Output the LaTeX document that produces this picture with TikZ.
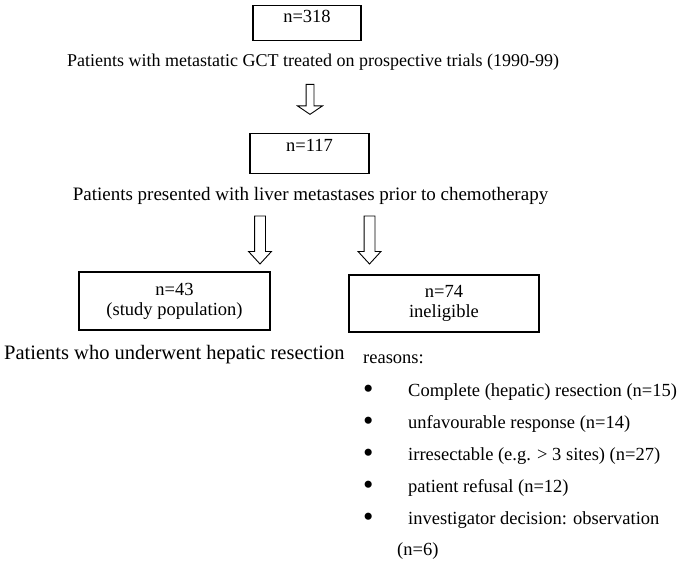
\documentclass[tikz,border=0pt]{standalone}
\usepackage{fontspec}
\setmainfont{Liberation Serif}
\usetikzlibrary{shapes.arrows}

\newcommand\reasonDot{\makebox[45pt][l]{\raisebox{-2.2pt}{\scalebox{1.6}{\textbullet}}}}

\tikzset{
  countBox/.style={draw,line width=1.2pt,inner sep=0pt,align=center},
  flowText/.style={inner sep=0pt,anchor=base west},
  hollowArrow/.style={single arrow,draw,line width=.9pt,shape border rotate=270,inner sep=#1},
}

\begin{document}
\begin{tikzpicture}[x=1pt,y=-1pt,font=\fontsize{18.5}{20}\selectfont]
    \useasboundingbox (0,0) rectangle (680,563);
    % top of the chart
    \node[countBox,minimum width=108pt,text height=17pt,text depth=18pt] (total) at (307,5) [anchor=north] {n=318};
    \node[inner sep=0pt,font=\fontsize{18}{20}\selectfont] (totalText) at (313,62) {Patients with metastatic GCT treated on prospective trials (1990-99)};
    \node[hollowArrow=3.5pt,minimum height=30pt,single arrow head extend=8.5pt,single arrow tip angle=112] (arrowTop) at (310,98) {};
    \node[countBox,minimum width=119pt,text height=18pt,text depth=22pt] (liver) at (309.5,133) [anchor=north] {n=117};
    \node[inner sep=0pt,font=\fontsize{19}{20}\selectfont] (liverText) at (310.5,196) {Patients presented with liver metastases prior to chemotherapy};
    % split
    \node[hollowArrow=5pt,minimum height=48pt,single arrow head extend=6pt,single arrow tip angle=85] (arrowLeft) at (260,237) {};
    \node[hollowArrow=5pt,minimum height=48pt,single arrow head extend=6pt,single arrow tip angle=85] (arrowRight) at (369.5,237) {};
    \node[countBox,minimum width=191pt,minimum height=58pt] (study) at (174.5,301) {n=43\\(study population)};
    \node[countBox,minimum width=190pt,minimum height=57pt] (inelig) at (444,303.5) {n=74\\ineligible};
    \node[flowText,font=\fontsize{20.5}{20}\selectfont] (studyText) at (4,359) {Patients who underwent hepatic resection};
    % reasons for ineligibility
    \node[flowText] (reasons) at (363,363) {reasons:};
    \node[flowText] (reasonA) at (363,396) {\reasonDot Complete (hepatic) resection (n=15)};
    \node[flowText] (reasonB) at (363,428) {\reasonDot unfavourable response (n=14)};
    \node[flowText] (reasonC) at (363,460) {\reasonDot irresectable (e.g. > 3 sites) (n=27)};
    \node[flowText] (reasonD) at (363,492) {\reasonDot patient refusal (n=12)};
    \node[flowText] (reasonE) at (363,524) {\reasonDot investigator decision: observation};
    \node[flowText] (reasonEn) at (397,555) {(n=6)};
  \end{tikzpicture}
\end{document}
